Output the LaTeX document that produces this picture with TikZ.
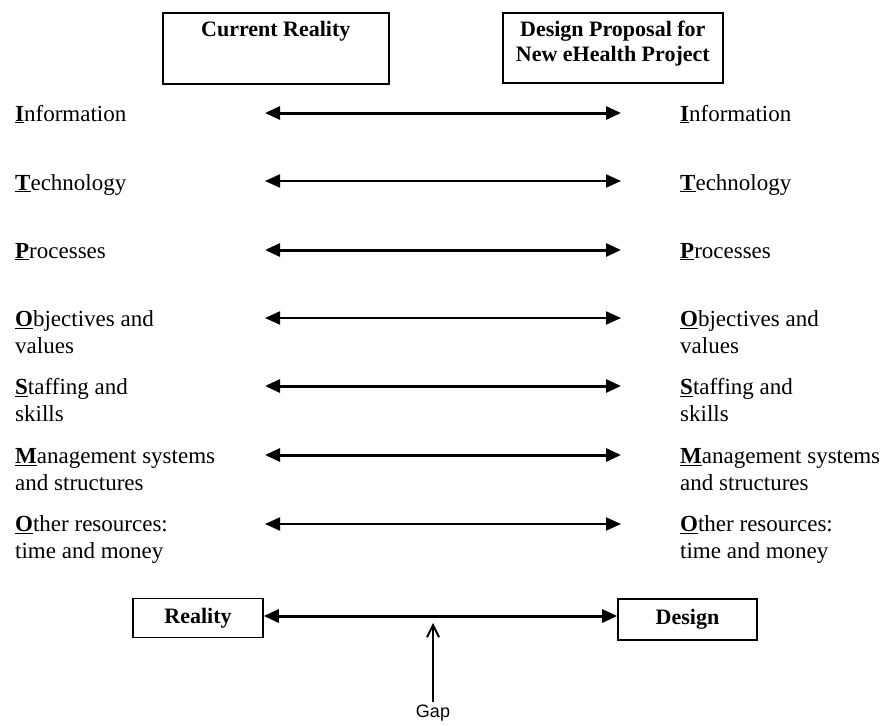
\documentclass[tikz,border=0pt]{standalone}
\usepackage{fontspec}
\setmainfont{Liberation Serif}
\setsansfont{Liberation Sans}
\usepackage{tikz}
\usetikzlibrary{arrows.meta,positioning}
\newcommand{\keyletter}[1]{\underline{\textbf{#1}}}

\begin{document}
\begin{tikzpicture}[
    x=1pt, y=-1pt,
    box/.style={rectangle, draw, line width=1.6pt, inner sep=0pt},
    head/.style={font=\fontsize{22}{25}\selectfont\bfseries, align=center, inner sep=0pt},
    item/.style={font=\fontsize{23}{26.5}\selectfont, align=left, inner sep=0pt, anchor=base west},
    arrow/.style={{Triangle[length=15pt,width=13pt]}-{Triangle[length=15pt,width=13pt]}, line width=2pt},
    heavy/.style={arrow, line width=3pt}
]
    \useasboundingbox (0,0) rectangle (888,725);

    % top boxes
    \node[box, minimum width=226pt, minimum height=71pt, anchor=north west] (cur) at (162,12) {};
    \node[head, below=9pt of cur.north] (curtxt) {Current Reality};
    \node[box, minimum width=220pt, minimum height=70pt, anchor=north west] (des) at (502,12) {};
    \node[head, below=9pt of des.north] (destxt) {Design Proposal for\\New eHealth Project};

    % left column (base = last line)
    \node[item] (infoL) at (15,121) {\keyletter{I}nformation};
    \node[item] (techL) at (15,190) {\keyletter{T}echnology};
    \node[item] (procL) at (15,258) {\keyletter{P}rocesses};
    \node[item] (objL)  at (15,353) {\keyletter{O}bjectives and\\values};
    \node[item] (stafL) at (15,421) {\keyletter{S}taffing and\\skills};
    \node[item] (mgmtL) at (15,490) {\keyletter{M}anagement systems\\and structures};
    \node[item] (othL)  at (15,558) {\keyletter{O}ther resources:\\time and money};

    % right column
    \node[item] (infoR) at (680,121) {\keyletter{I}nformation};
    \node[item] (techR) at (680,190) {\keyletter{T}echnology};
    \node[item] (procR) at (680,258) {\keyletter{P}rocesses};
    \node[item] (objR)  at (680,353) {\keyletter{O}bjectives and\\values};
    \node[item] (stafR) at (680,421) {\keyletter{S}taffing and\\skills};
    \node[item] (mgmtR) at (680,490) {\keyletter{M}anagement systems\\and structures};
    \node[item] (othR)  at (680,558) {\keyletter{O}ther resources:\\time and money};

    % arrow ends
    \coordinate (infoA) at (265,113); \coordinate (infoB) at (621,113);
    \coordinate (techA) at (265,181); \coordinate (techB) at (621,181);
    \coordinate (procA) at (265,250); \coordinate (procB) at (621,250);
    \coordinate (objA)  at (265,318); \coordinate (objB)  at (621,318);
    \coordinate (stafA) at (265,386); \coordinate (stafB) at (621,386);
    \coordinate (mgmtA) at (265,455); \coordinate (mgmtB) at (621,455);
    \coordinate (othA)  at (265,524); \coordinate (othB)  at (621,524);

    \draw[heavy] (infoA) -- (infoB);
    \draw[arrow] (techA) -- (techB);
    \draw[heavy] (procA) -- (procB);
    \draw[arrow] (objA) -- (objB);
    \draw[heavy] (stafA) -- (stafB);
    \draw[heavy] (mgmtA) -- (mgmtB);
    \draw[arrow] (othA) -- (othB);

    % bottom
    \node[box, minimum width=130pt, minimum height=39pt, font=\fontsize{22}{26}\selectfont\bfseries] (real) at (198,618) {Reality};
    \node[box, minimum width=139pt, minimum height=41pt, font=\fontsize{22}{26}\selectfont\bfseries] (desg) at (687.5,619.5) {Design};
    \draw[heavy] (real.east |- 0,616) -- (desg.west |- 0,616);

    \node[font=\sffamily\fontsize{18}{21}\selectfont, inner sep=0pt] (gap) at (433,713) {Gap};
    \coordinate (gapTip) at (433,623);
    \draw[line width=2pt, -{Straight Barb[length=12pt,width=12pt]}] (gap.north) ++(0,-3) -- (gapTip);
\end{tikzpicture}
\end{document}
